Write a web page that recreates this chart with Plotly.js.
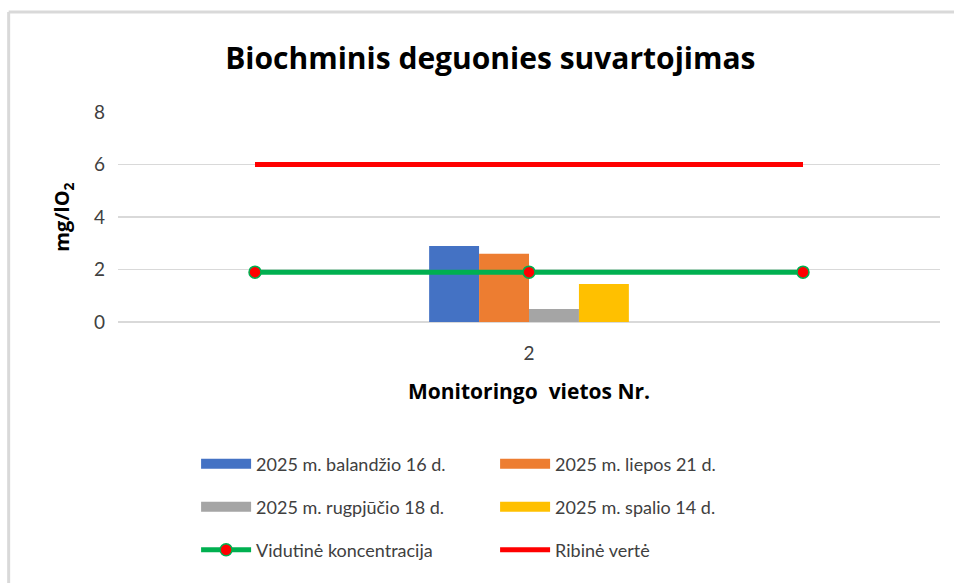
<!DOCTYPE html>
<html>
<head>
<meta charset="utf-8">
<script src="https://cdn.plot.ly/plotly-3.0.1.min.js"></script>
<style>
  body { margin: 0; background: #fff; }
  #chart { width: 954px; height: 583px; }
</style>
</head>
<body>
<div id="chart"></div>
<script>
// data
var sites = ["2"];
var seriesNames = ["2025 m. balandžio 16 d.", "2025 m. liepos 21 d.", "2025 m. rugpjūčio 18 d.", "2025 m. spalio 14 d."];
var seriesValues = [[2.9], [2.6], [0.5], [1.45]];
var seriesColors = ["#4472C4", "#ED7D31", "#A5A5A5", "#FFC000"];
var lineX = [1, 2, 3];
var meanValues = [1.9, 1.9, 1.9];
var limitValues = [6, 6, 6];

var font = "Lato, 'Open Sans', sans-serif";
var boldFont = "'Open Sans', Lato, sans-serif";
var legendRows = ["legend", "legend", "legend2", "legend2"];

var traces = [];
for (var i = 0; i < seriesNames.length; i++) {
  traces.push({
    type: "bar",
    name: seriesNames[i],
    x: sites,
    y: seriesValues[i],
    marker: {color: seriesColors[i]},
    legendgroup: "s" + i,
    showlegend: false,
    hoverinfo: "y"
  });
  // legend entry drawn as a wide swatch, like the reference
  traces.push({
    type: "scatter",
    mode: "lines",
    name: seriesNames[i],
    x: [null],
    y: [null],
    line: {color: seriesColors[i], width: 14},
    legendgroup: "s" + i,
    legend: legendRows[i]
  });
}

traces.push({
  type: "scatter",
  mode: "lines+markers",
  name: "Vidutinė koncentracija",
  x: lineX,
  y: meanValues,
  xaxis: "x2",
  line: {color: "#00B050", width: 5},
  marker: {color: "#FF0000", size: 12, line: {color: "#00B050", width: 1.5}},
  legend: "legend3"
});
traces.push({
  type: "scatter",
  mode: "lines",
  name: "Ribinė vertė",
  x: lineX,
  y: limitValues,
  xaxis: "x2",
  line: {color: "#FF0000", width: 5},
  legend: "legend3"
});

function legendRow(y) {
  return {
    orientation: "h",
    x: 0.095, xanchor: "left",
    y: y, yanchor: "middle",
    itemwidth: 50,
    entrywidth: 234,
    font: {family: font, size: 18, color: "#404040"},
    bgcolor: "rgba(0,0,0,0)"
  };
}

var layout = {
  width: 954,
  height: 583,
  margin: {l: 118, r: 14, t: 112, b: 261},
  paper_bgcolor: "#fff",
  plot_bgcolor: "#fff",
  barmode: "group",
  bargap: 0.757,
  bargroupgap: 0,
  title: {
    text: "<b>Biochminis deguonies suvartojimas</b>",
    font: {family: boldFont, size: 30, color: "#000"},
    xref: "container", x: 0.514, xanchor: "center",
    yref: "container", y: 0.9, yanchor: "middle"
  },
  xaxis: {
    type: "category",
    showgrid: false,
    zeroline: false,
    showline: false,
    ticks: "",
    ticklabelstandoff: 18,
    tickfont: {family: font, size: 19, color: "#404040"},
    title: {
      text: "<b>Monitoringo  vietos Nr.</b>",
      font: {family: boldFont, size: 21, color: "#000"},
      standoff: 21
    }
  },
  xaxis2: {
    overlaying: "x",
    range: [0.5, 3.5],
    visible: false
  },
  yaxis: {
    range: [0, 8],
    dtick: 2,
    showgrid: true,
    gridcolor: "#d9d9d9",
    gridwidth: 1.5,
    zeroline: true,
    zerolinecolor: "#d9d9d9",
    zerolinewidth: 2,
    showline: false,
    ticks: "",
    ticklabelstandoff: 12,
    tickfont: {family: font, size: 19, color: "#404040"},
    title: {
      text: "<b>mg/lO<sub>2</sub></b>",
      font: {family: boldFont, size: 20, color: "#000"},
      standoff: 18
    }
  },
  legend: legendRow(-0.676),
  legend2: legendRow(-0.881),
  legend3: legendRow(-1.086),
  shapes: [
    {type: "line", xref: "paper", yref: "paper", x0: -0.133, x1: 1.02, y0: 1.476, y1: 1.476,
     line: {color: "#d9d9d9", width: 3}},
    {type: "line", xref: "paper", yref: "paper", x0: -0.133, x1: -0.133, y0: 1.476, y1: -1.3,
     line: {color: "#d9d9d9", width: 3}}
  ],
  showlegend: true
};

Plotly.newPlot("chart", traces, layout, {displayModeBar: false, staticPlot: true});
</script>
</body>
</html>
